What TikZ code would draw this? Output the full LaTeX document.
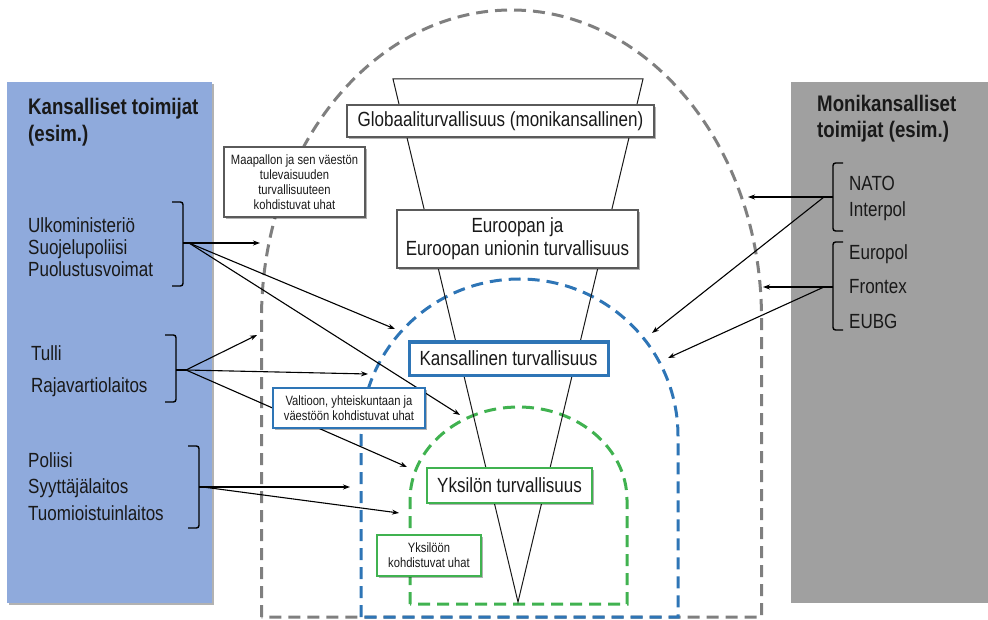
\documentclass[tikz,border=0pt]{standalone}
\usepackage{fontspec}
\setmainfont{Liberation Sans}
\newfontfamily\cond[FakeStretch=0.83]{Liberation Sans}
\usetikzlibrary{arrows.meta,shadows}

\definecolor{panelblue}{RGB}{143,170,220}
\definecolor{panelgray}{RGB}{160,160,160}
\definecolor{ringgray}{RGB}{127,127,127}
\definecolor{ringblue}{RGB}{46,117,182}
\definecolor{ringgreen}{RGB}{64,178,80}
\definecolor{boxgray}{RGB}{90,90,90}
\definecolor{ink}{RGB}{25,25,25}

\tikzset{
  shadowed/.style={drop shadow={shadow xshift=2pt,shadow yshift=-2pt,opacity=0.3,fill=black}},
  tbox/.style={draw, fill=white, line width=2pt, inner sep=0pt, align=center, text=ink, shadowed},
  graybox/.style={tbox, draw=boxgray},
  bluebox/.style={tbox, draw=ringblue, line width=3pt},
  greenbox/.style={tbox, draw=ringgreen, line width=2.5pt},
  bigtext/.style={font=\cond\fontsize{20.5}{23}\selectfont},
  smalltext/.style={font=\cond\fontsize{13.5}{15}\selectfont},
  item/.style={anchor=base west, inner sep=0pt, text=ink, font=\cond\fontsize{20.5}{23}\selectfont},
  heading/.style={item, font=\cond\bfseries\fontsize{22.5}{27}\selectfont},
  ring/.style={line width=3pt, dash pattern=on 12pt off 7pt},
  bracket/.style={line width=1.4pt, rounded corners=2.5pt},
  link/.style={line width=1.1pt, -{Stealth[length=7pt,width=5pt]}},
}

\begin{document}
\begin{tikzpicture}[x=1pt,y=-1pt]
\useasboundingbox (0,0) rectangle (988,620);

% side panels
\path[fill=panelblue, shadowed] (7,82) rectangle (212,603);
\path[fill=panelgray] (791,82) rectangle (988,603);

% national actors
\node[heading] (natA) at (28,115) {Kansalliset toimijat};
\node[heading] (natB) at (28,142) {(esim.)};
\node[item] (ulko) at (28,233) {Ulkoministeriö};
\node[item] (supo) at (28,255) {Suojelupoliisi};
\node[item] (puol) at (28,277) {Puolustusvoimat};
\node[item] (tulli) at (31,360) {Tulli};
\node[item] (raja) at (31,392) {Rajavartiolaitos};
\node[item] (pol) at (28,467) {Poliisi};
\node[item] (syy) at (28,493) {Syyttäjälaitos};
\node[item] (tuom) at (28,520) {Tuomioistuinlaitos};

% multinational actors
\node[heading] (monA) at (817,112) {Monikansalliset};
\node[heading] (monB) at (817,138) {toimijat (esim.)};
\node[item] (nato) at (849,191) {NATO};
\node[item] (interpol) at (849,217) {Interpol};
\node[item] (europol) at (849,260) {Europol};
\node[item] (frontex) at (849,294) {Frontex};
\node[item] (eubg) at (849,328) {EUBG};

% brackets grouping the actors
\draw[bracket] (172,202) -- (183,202) -- (183,286) -- (172,286);
\draw[bracket] (183,243) -- (189,243);
\coordinate (b1) at (189,243);
\draw[bracket] (165,335) -- (176,335) -- (176,402) -- (165,402);
\draw[bracket] (176,370) -- (186,370);
\coordinate (b2) at (186,370);
\draw[bracket] (188,446) -- (199,446) -- (199,528) -- (188,528);
\draw[bracket] (199,487) -- (203,487);
\coordinate (b3) at (203,487);
\draw[bracket] (843,163) -- (833,163) -- (833,231) -- (843,231);
\draw[bracket] (833,197) -- (824,197);
\coordinate (r1) at (824,197);
\draw[bracket] (843,242) -- (833,242) -- (833,330) -- (843,330);
\draw[bracket] (833,287) -- (824,287);
\coordinate (r2) at (824,287);

% security levels as nested dashed domes
\draw[ring, ringgray] (261.5,617) -- (261.5,318)
  arc[start angle=180, end angle=360, x radius=250, y radius=308] -- (761.5,617) -- cycle;
\draw[ring, ringblue] (361,617) -- (361,436)
  arc[start angle=180, end angle=360, x radius=158.5, y radius=157] -- (678,617) -- cycle;
\draw[ring, ringgreen] (410,604) -- (410,500)
  arc[start angle=180, end angle=360, x radius=108.5, y radius=93] -- (627,604) -- cycle;

% funnel
\draw[line width=1pt, ink] (393,79) -- (643,79) -- (518,602) -- cycle;

% arrow targets
\coordinate (t1a) at (260,243);
\coordinate (t1b) at (395,329);
\coordinate (t1c) at (460,415);
\coordinate (t2a) at (257,335);
\coordinate (t2b) at (368,374);
\coordinate (t2c) at (407,467);
\coordinate (t3a) at (350,487);
\coordinate (t3b) at (399,513);
\coordinate (s1a) at (748,197);
\coordinate (s1b) at (652,333);
\coordinate (s2a) at (763,287);
\coordinate (s2b) at (668,358);

\draw[link] (b1) -- (t1a);
\draw[link] (b1) -- (t1b);
\draw[link] (b1) -- (t1c);
\draw[link] (b2) -- (t2a);
\draw[link] (b2) -- (t2b);
\draw[link] (b2) -- (t2c);
\draw[link] (b3) -- (t3a);
\draw[link] (b3) -- (t3b);
\draw[link] (r1) -- (s1a);
\draw[link] (r1) -- (s1b);
\draw[link] (r2) -- (s2a);
\draw[link] (r2) -- (s2b);

% level labels
\node[graybox, bigtext, minimum width=307pt, minimum height=32pt] (glob) at (500.5,121)
  {Globaaliturvallisuus (monikansallinen)};
\node[graybox, bigtext, minimum width=241pt, minimum height=58pt] (euro) at (517.5,239)
  {Euroopan ja\\Euroopan unionin turvallisuus};
\node[bluebox, bigtext, minimum width=199pt, minimum height=33pt] (kans) at (508.5,358.5)
  {Kansallinen turvallisuus};
\node[greenbox, bigtext, minimum width=165pt, minimum height=35pt] (yks) at (509.5,485.5)
  {Yksilön turvallisuus};

% threat labels
\node[graybox, smalltext, minimum width=141pt, minimum height=70pt] (maa) at (294.5,182)
  {Maapallon ja sen väestön\\tulevaisuuden\\turvallisuuteen\\kohdistuvat uhat};
\node[bluebox, smalltext, line width=2.5pt, minimum width=152pt, minimum height=40pt] (valt) at (349,408)
  {Valtioon, yhteiskuntaan ja\\väestöön kohdistuvat uhat};
\node[greenbox, smalltext, line width=2pt, minimum width=104pt, minimum height=41pt] (yksu) at (429,555.5)
  {Yksilöön\\kohdistuvat uhat};
\end{tikzpicture}
\end{document}
